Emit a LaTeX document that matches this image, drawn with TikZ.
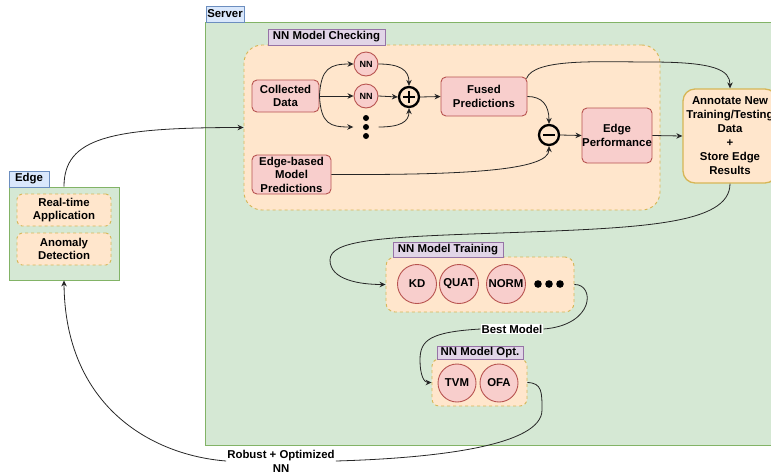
\documentclass[tikz,border=0pt]{standalone}
\usepackage{fontspec}
\setmainfont{Liberation Sans}
\usetikzlibrary{arrows.meta,calc}
\definecolor{grF}{HTML}{D5E8D4}\definecolor{grB}{HTML}{82B366}
\definecolor{orF}{HTML}{FFE6CC}\definecolor{orB}{HTML}{D6B656}
\definecolor{pkF}{HTML}{F8CECC}\definecolor{pkB}{HTML}{B85450}
\definecolor{puF}{HTML}{E1D5E7}\definecolor{puB}{HTML}{9673A6}
\definecolor{blF}{HTML}{DAE8FC}\definecolor{blB}{HTML}{6C8EBF}
\tikzset{
  txt/.style={font=\bfseries\fontsize{11.4}{13.5}\selectfont, align=center, inner sep=0pt, text=black},
  greenbox/.style={draw=grB, fill=grF, line width=0.9pt, inner sep=0pt},
  bluelab/.style={txt, draw=blB, fill=blF, line width=0.9pt},
  purplelab/.style={txt, draw=puB, fill=puF, line width=0.9pt},
  orbox/.style={draw=orB, fill=orF, line width=0.9pt, dash pattern=on 3pt off 3pt, inner sep=0pt},
  orsolid/.style={txt, draw=orB, fill=orF, line width=1.3pt, rounded corners=12pt},
  pinkbox/.style={txt, draw=pkB, fill=pkF, line width=0.9pt, rounded corners=5pt},
  pinkcirc/.style={txt, circle, draw=pkB, fill=pkF, line width=0.9pt},
  opcirc/.style={circle, draw=black, line width=2.3pt, minimum size=20pt, inner sep=0pt},
  conn/.style={draw=black!85, line width=0.8pt},
  arr/.style={conn, -{Stealth[length=6pt,width=5.5pt]}},
}
\begin{document}
\begin{tikzpicture}[x=1pt,y=-1pt]
\useasboundingbox (0,0) rectangle (771,475);
\clip (0,0) rectangle (771,475);
% Server
\node[greenbox, minimum width=600pt, minimum height=423pt, anchor=north west] (server) at (205,22) {};
\node[bluelab, minimum width=38pt, minimum height=16pt] (slab) at (225,14) {Server};
% Edge
\node[greenbox, minimum width=110pt, minimum height=93pt] (edgebox) at (64,233.5) {};
\node[bluelab, minimum width=40pt, minimum height=16pt] (elab) at (29,179) {Edge};
\node[orbox, txt, rounded corners=5pt, minimum width=94pt, minimum height=32pt] (rt) at (64,210) {Real-time\\Application};
\node[orbox, txt, rounded corners=5pt, minimum width=94pt, minimum height=32pt] (ad) at (64,249) {Anomaly\\Detection};
% NN Model Checking
\node[orbox, rounded corners=18pt, minimum width=416pt, minimum height=165pt] (nnc) at (452,127.5) {};
\node[purplelab, minimum width=117pt, minimum height=16pt] (nnclab) at (326.5,37) {NN Model Checking};
\node[pinkbox, minimum width=67pt, minimum height=32pt] (cd) at (285.5,96) {Collected\\Data};
\node[pinkcirc, minimum size=24pt, font=\bfseries\fontsize{9}{10}\selectfont] (nn1) at (366,64) {NN};
\node[pinkcirc, minimum size=24pt, font=\bfseries\fontsize{9}{10}\selectfont] (nn2) at (366,96) {NN};
\node[minimum width=25pt, minimum height=28pt, inner sep=0pt] (dots) at (366,127) {};
\foreach \yy in {118,127,136} \fill (366,\yy) circle (3pt);
\node[opcirc] (plus) at (409,97) {};
\draw[line width=2.3pt] (403,97) -- (415,97) (409,91) -- (409,103);
\node[pinkbox, minimum width=86pt, minimum height=39pt] (fused) at (484,96.5) {Fused\\Predictions};
\node[opcirc] (minus) at (549,135) {};
\draw[line width=2.6pt] (543,135) -- (555,135);
\node[pinkbox, minimum width=70pt, minimum height=55pt] (ep) at (617,135.5) {Edge\\Performance};
\node[pinkbox, minimum width=79pt, minimum height=39pt] (ebm) at (291.5,174.5) {Edge-based\\Model\\Predictions};
\node[orsolid, minimum width=94pt, minimum height=94pt, font=\bfseries\fontsize{11.4}{14}\selectfont] (ann) at (730,136) {Annotate New\\Training/Testing\\Data\\+\\Store Edge\\Results};
% NN Model Training
\node[orbox, rounded corners=9pt, minimum width=188pt, minimum height=55pt] (train) at (480,284.5) {};
\node[purplelab, minimum width=110pt, minimum height=15pt] (trlab) at (448,249.5) {NN Model Training};
\node[pinkcirc, minimum size=39pt] (kd) at (417,284) {KD};
\node[pinkcirc, minimum size=39pt] (quat) at (459,284) {QUAT};
\node[pinkcirc, minimum size=39pt] (norm) at (506,284) {NORM};
\foreach \xx in {538,549,560} \fill (\xx,284) circle (3.8pt);
% NN Model Opt
\node[orbox, rounded corners=7pt, minimum width=95pt, minimum height=47pt] (opt) at (479.5,382.5) {};
\node[purplelab, minimum width=86pt, minimum height=13pt] (optlab) at (480,352.5) {NN Model Opt.};
\node[pinkcirc, minimum size=38pt] (tvm) at (457,383) {TVM};
\node[pinkcirc, minimum size=38pt] (ofa) at (499,383) {OFA};
% edge labels
\node[txt, fill=white, inner sep=1pt] (best) at (512,329) {Best Model};
\node[txt, fill=white, inner sep=1pt, font=\bfseries\fontsize{11.4}{14}\selectfont] (robust) at (281,461) {Robust + Optimized\\NN};
% connectors
\draw[arr] (edgebox.north) .. controls (64,138) and (110,127.5) .. (nnc.west);
\draw[arr] (cd.east) .. controls (321,68) and (330,64) .. (nn1.west);
\draw[arr] (cd.east) -- (nn2.west);
\draw[arr] (cd.east) .. controls (321,124) and (330,127) .. (dots.west);
\draw[arr] (nn1.east) .. controls (400,64) and (409,70) .. (plus.north);
\draw[arr] (nn2.east) -- (plus.west);
\draw[arr] (dots.east) .. controls (400,127) and (409,122) .. (plus.south);
\draw[arr] (plus.east) -- (fused.west);
\draw[arr] (fused.east) .. controls (542,96.5) and (549,105) .. (minus.north);
\draw[arr] (ebm.east) .. controls (460,175) and (549,171) .. (minus.south);
\draw[arr] (minus.east) -- (ep.west);
\draw[arr] (ep.east) -- (ann.west);
\draw[arr] ($(fused.north east)+(-1,2)$) .. controls (534,58) and (600,62) .. (650,62) .. controls (715,62) and (730,70) .. (ann.north);
\draw[arr] (ann.south) .. controls (730,225) and (640,228) .. (500,233) .. controls (380,237) and (330,240) .. (330,260) .. controls (330,280) and (360,284.5) .. (train.west);
\draw[conn] (train.east) .. controls (595,284) and (595,325) .. (best.east);
\draw[arr] (best.west) .. controls (430,332) and (420,340) .. (420,360) .. controls (420,375) and (424,382.5) .. (opt.west);
\draw[conn] (opt.east) .. controls (542,383) and (542,392) .. (542,410) .. controls (542,445) and (440,458) .. (robust.east);
\draw[arr] (robust.west) .. controls (150,455) and (65,405) .. (edgebox.south);
\end{tikzpicture}
\end{document}
